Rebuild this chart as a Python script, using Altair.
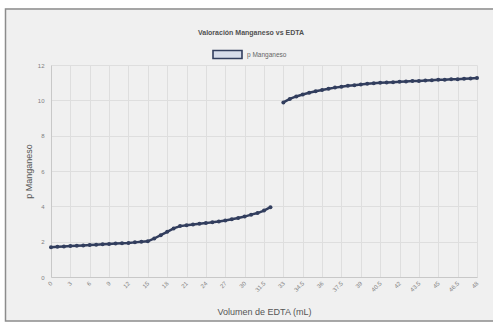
import altair as alt
import pandas as pd

# Volume of EDTA added (mL), one entry per category on the x axis
vol_labels = [str(i) for i in range(0, 31)] + [
    ("%g" % (30 + 0.5 * k)) for k in range(1, 37)
]

# pMn at each volume; None marks the equivalence point that is not plotted
pmn = [
    1.69, 1.71, 1.73, 1.75, 1.77, 1.79, 1.81, 1.83, 1.85, 1.87,
    1.89, 1.91, 1.93, 1.96, 1.99, 2.02, 2.18, 2.37, 2.56, 2.75,
    2.88, 2.93, 2.97, 3.01, 3.05, 3.10, 3.14, 3.20, 3.27, 3.34,
    3.42, 3.53, 3.62, 3.76, 3.95, None, 9.88, 10.08, 10.22, 10.33,
    10.43, 10.51, 10.58, 10.65, 10.72, 10.77, 10.82, 10.86, 10.90, 10.94,
    10.97, 10.99, 11.01, 11.03, 11.05, 11.07, 11.09, 11.10, 11.12, 11.14,
    11.16, 11.17, 11.19, 11.20, 11.22, 11.24, 11.26,
]

series_name = "p Manganeso"
y_ticks = [0, 2, 4, 6, 8, 10, 12]

line_color = "#323e5e"
font = "Liberation Sans"

rows = []
seg = 0
for v, p in zip(vol_labels, pmn):
    if p is None:
        seg += 1
        continue
    rows.append({"vol": v, "pmn": p, "serie": series_name, "seg": seg})
df = pd.DataFrame(rows)

one_row = pd.DataFrame({"k": [0]})

# white page margin around the chart area, then the chart area's grey border
margin = alt.Chart(one_row).mark_rect(
    filled=False, stroke="white", strokeWidth=18
).encode(
    x=alt.value(-55), x2=alt.value(459), y=alt.value(-66), y2=alt.value(265)
)
border = alt.Chart(one_row).mark_rect(
    filled=False, stroke="#8c8c8c", strokeWidth=1.5
).encode(
    x=alt.value(-45.5), x2=alt.value(449), y=alt.value(-56), y2=alt.value(256)
)

x_enc = alt.X(
    "vol:O",
    scale=alt.Scale(type="point", domain=vol_labels, padding=0),
    axis=alt.Axis(
        values=vol_labels[::3],
        title="Volumen de EDTA (mL)",
        titleFont=font, titleFontSize=9, titleFontWeight="normal", titleColor="#555555",
        titleY=34, titleBaseline="middle",
        labelAngle=-45, labelAlign="right", labelBaseline="middle",
        labelFont=font, labelFontSize=6, labelColor="#808080", labelPadding=5,
        ticks=False, domainColor="#c8c8c8", gridColor="#dedede", grid=True,
        labelOverlap=False,
    ),
)

y_enc = alt.Y(
    "pmn:Q",
    scale=alt.Scale(domain=[0, 12], nice=False),
    axis=alt.Axis(
        values=y_ticks,
        title=series_name,
        titleFont=font, titleFontSize=9, titleFontWeight="normal", titleColor="#555555",
        titleAngle=-90, titleX=-23, titleY=106, titleAlign="center", titleBaseline="middle",
        labelFont=font, labelFontSize=6, labelColor="#808080", labelPadding=7,
        ticks=False, domainColor="#c8c8c8", gridColor="#dedede", grid=True,
    ),
)

base = alt.Chart(df).encode(x=x_enc, y=y_enc, detail="seg:N")

curve = base.mark_line(strokeWidth=2.5).encode(
    stroke=alt.Stroke(
        "serie:N",
        scale=alt.Scale(domain=[series_name], range=[line_color]),
        legend=alt.Legend(
            title=None, orient="none", legendX=161, legendY=-26,
            symbolType="M-1,-0.28H1V0.28H-1Z", symbolSize=841,
            symbolFillColor="#d6dcea", symbolStrokeColor=line_color, symbolStrokeWidth=1.6,
            labelFont=font, labelFontSize=6.5, labelColor="#666666", labelOffset=4,
        ),
    ),
)

markers = base.mark_circle(size=16, color=line_color, opacity=1)

chart = alt.layer(margin, border, curve, markers).properties(
    width=426,
    height=212,
    title=alt.Title(
        "Valoración Manganeso vs EDTA",
        font=font, fontSize=7, fontWeight="bold", color="#505050",
        anchor="middle", dx=-13, offset=-46,
    ),
    autosize=alt.AutoSizeParams(type="none"),
    padding={"left": 51, "top": 65, "right": 16, "bottom": 50},
).configure(background="#f0f0f0").configure_view(stroke=None)

chart.save("out.html", embed_options={"renderer": "svg", "actions": False})
